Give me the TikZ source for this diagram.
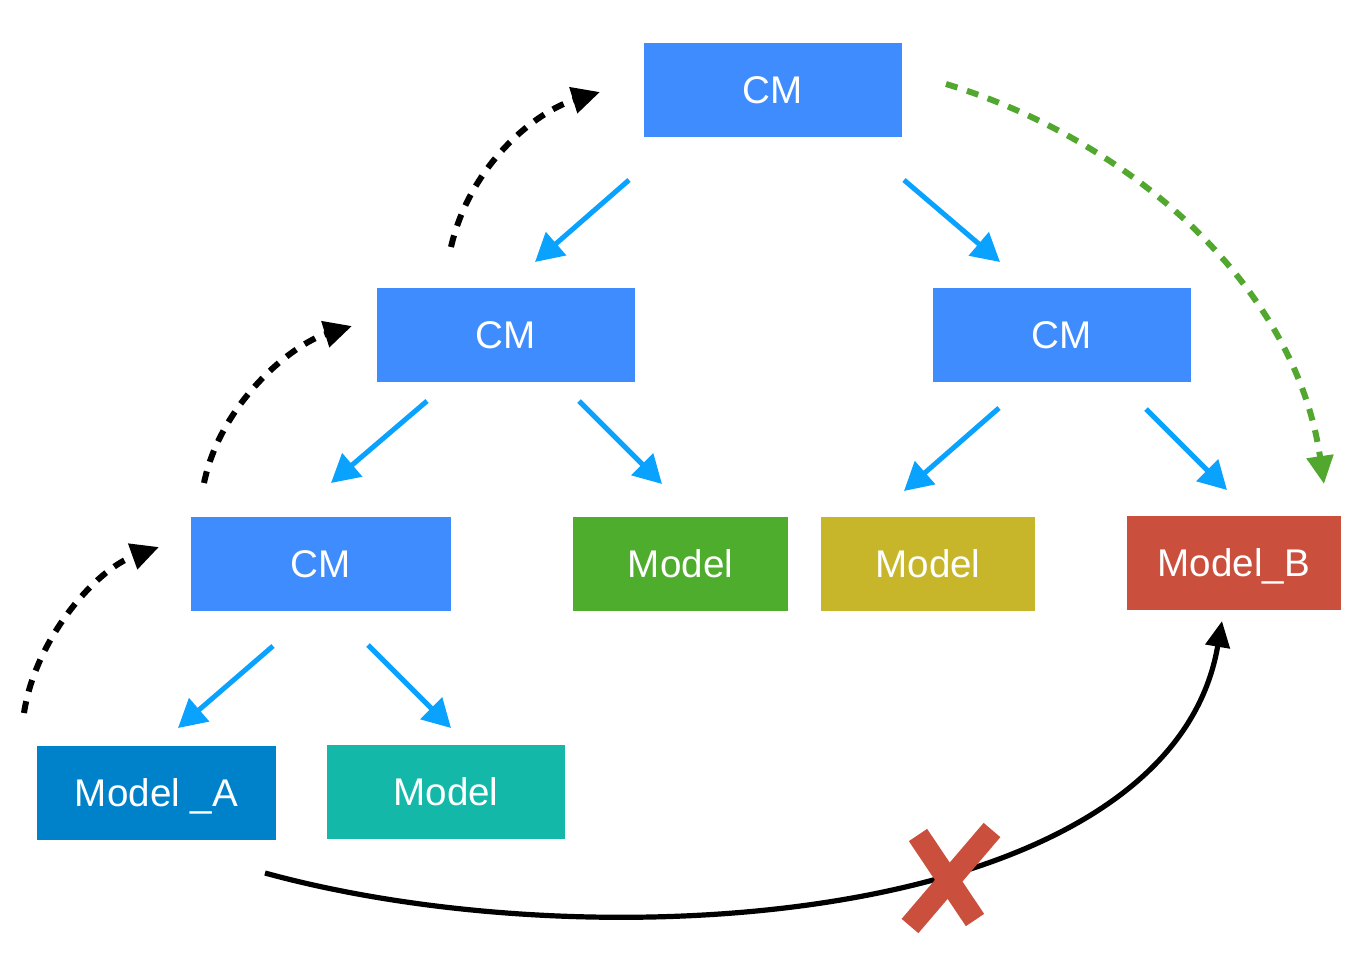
\documentclass[tikz,border=0pt]{standalone}
\usepackage{fontspec}
\setmainfont{Liberation Sans}
\usetikzlibrary{arrows.meta}
\definecolor{cmblue}{HTML}{3F8CFF}
\definecolor{arrblue}{HTML}{0AA2FF}
\definecolor{mgreen}{HTML}{4FAD2E}
\definecolor{myellow}{HTML}{C8B62A}
\definecolor{mred}{HTML}{CB4F3D}
\definecolor{mdblue}{HTML}{0082CB}
\definecolor{mteal}{HTML}{13B8A8}
\definecolor{dgreen}{HTML}{52A82E}
\tikzset{
  box/.style={minimum width=129pt, minimum height=47pt, inner sep=0pt, text=white,
    font=\fontsize{19.3}{23}\selectfont, text height=13.8pt, text depth=0pt},
  barrow/.style={arrblue, line width=2.5pt, -{Triangle[length=14pt,width=15pt]}},
  dasharrow/.style={line width=3pt, dash pattern=on 6pt off 5pt, -{Triangle[length=14pt,width=13pt]}},
  solidarrow/.style={black, line width=2.6pt, -{Triangle[length=13pt,width=12pt]}},
}
\begin{document}
\begin{tikzpicture}[x=0.5pt,y=-0.5pt]
\useasboundingbox (0,0) rectangle (1372,960);
% nodes
\node[box, fill=cmblue] (cm0) at (773,90) {CM};
\node[box, fill=cmblue] (cm1) at (506,335) {CM};
\node[box, fill=cmblue] (cm2) at (1061.5,335) {CM};
\node[box, fill=cmblue, minimum width=130pt] (cm3) at (321,564) {CM};
\node[box, fill=mgreen, minimum width=107.5pt] (mg) at (680.5,564) {Model};
\node[box, fill=myellow, minimum width=107pt] (my) at (928,564) {Model};
\node[box, fill=mred, minimum width=107pt] (mb) at (1234,563) {Model\_B};
\node[box, fill=mdblue, minimum width=119.5pt] (ma) at (156.5,793) {Model \_A};
\node[box, fill=mteal, minimum width=119pt] (mt) at (446,792) {Model};
% arrow endpoints
\coordinate (a1s) at (629,180); \coordinate (a1e) at (535,262);
\coordinate (a2s) at (904,180); \coordinate (a2e) at (1000,262);
\coordinate (a3s) at (427,401); \coordinate (a3e) at (331,483);
\coordinate (a4s) at (579,401); \coordinate (a4e) at (662,484);
\coordinate (a5s) at (999,408); \coordinate (a5e) at (904,491);
\coordinate (a6s) at (1146,409); \coordinate (a6e) at (1227,490);
\coordinate (a7s) at (273,646); \coordinate (a7e) at (178,728);
\coordinate (a8s) at (368,645); \coordinate (a8e) at (451,728);
\draw[barrow] (a1s) -- (a1e);
\draw[barrow] (a2s) -- (a2e);
\draw[barrow] (a3s) -- (a3e);
\draw[barrow] (a4s) -- (a4e);
\draw[barrow] (a5s) -- (a5e);
\draw[barrow] (a6s) -- (a6e);
\draw[barrow] (a7s) -- (a7e);
\draw[barrow] (a8s) -- (a8e);
% dashed curved arrows
\coordinate (d1s) at (24,713); \coordinate (d1e) at (159,547);
\coordinate (d2s) at (204,483); \coordinate (d2e) at (352,326);
\coordinate (d3s) at (451,247); \coordinate (d3e) at (600,92);
\coordinate (gs) at (946,84); \coordinate (ge) at (1324,484);
\draw[dasharrow] (d1s) .. controls (35,640) and (95,570) .. (d1e);
\draw[dasharrow] (d2s) .. controls (220,405) and (290,345) .. (d2e);
\draw[dasharrow] (d3s) .. controls (470,165) and (535,112) .. (d3e);
\draw[dasharrow, dgreen] (gs) .. controls (1130,140) and (1295,285) .. (ge);
% solid arrow
\coordinate (ss) at (265,873); \coordinate (se) at (1222,621);
\draw[solidarrow] (ss) .. controls (600,965) and (1170,925) .. (se);
% red X
\coordinate (x1a) at (918,835); \coordinate (x1b) at (975,920);
\coordinate (x2a) at (992,830); \coordinate (x2b) at (910,926);
\draw[mred, line width=11pt] (x1a) -- (x1b);
\draw[mred, line width=11pt] (x2a) -- (x2b);
\end{tikzpicture}
\end{document}
